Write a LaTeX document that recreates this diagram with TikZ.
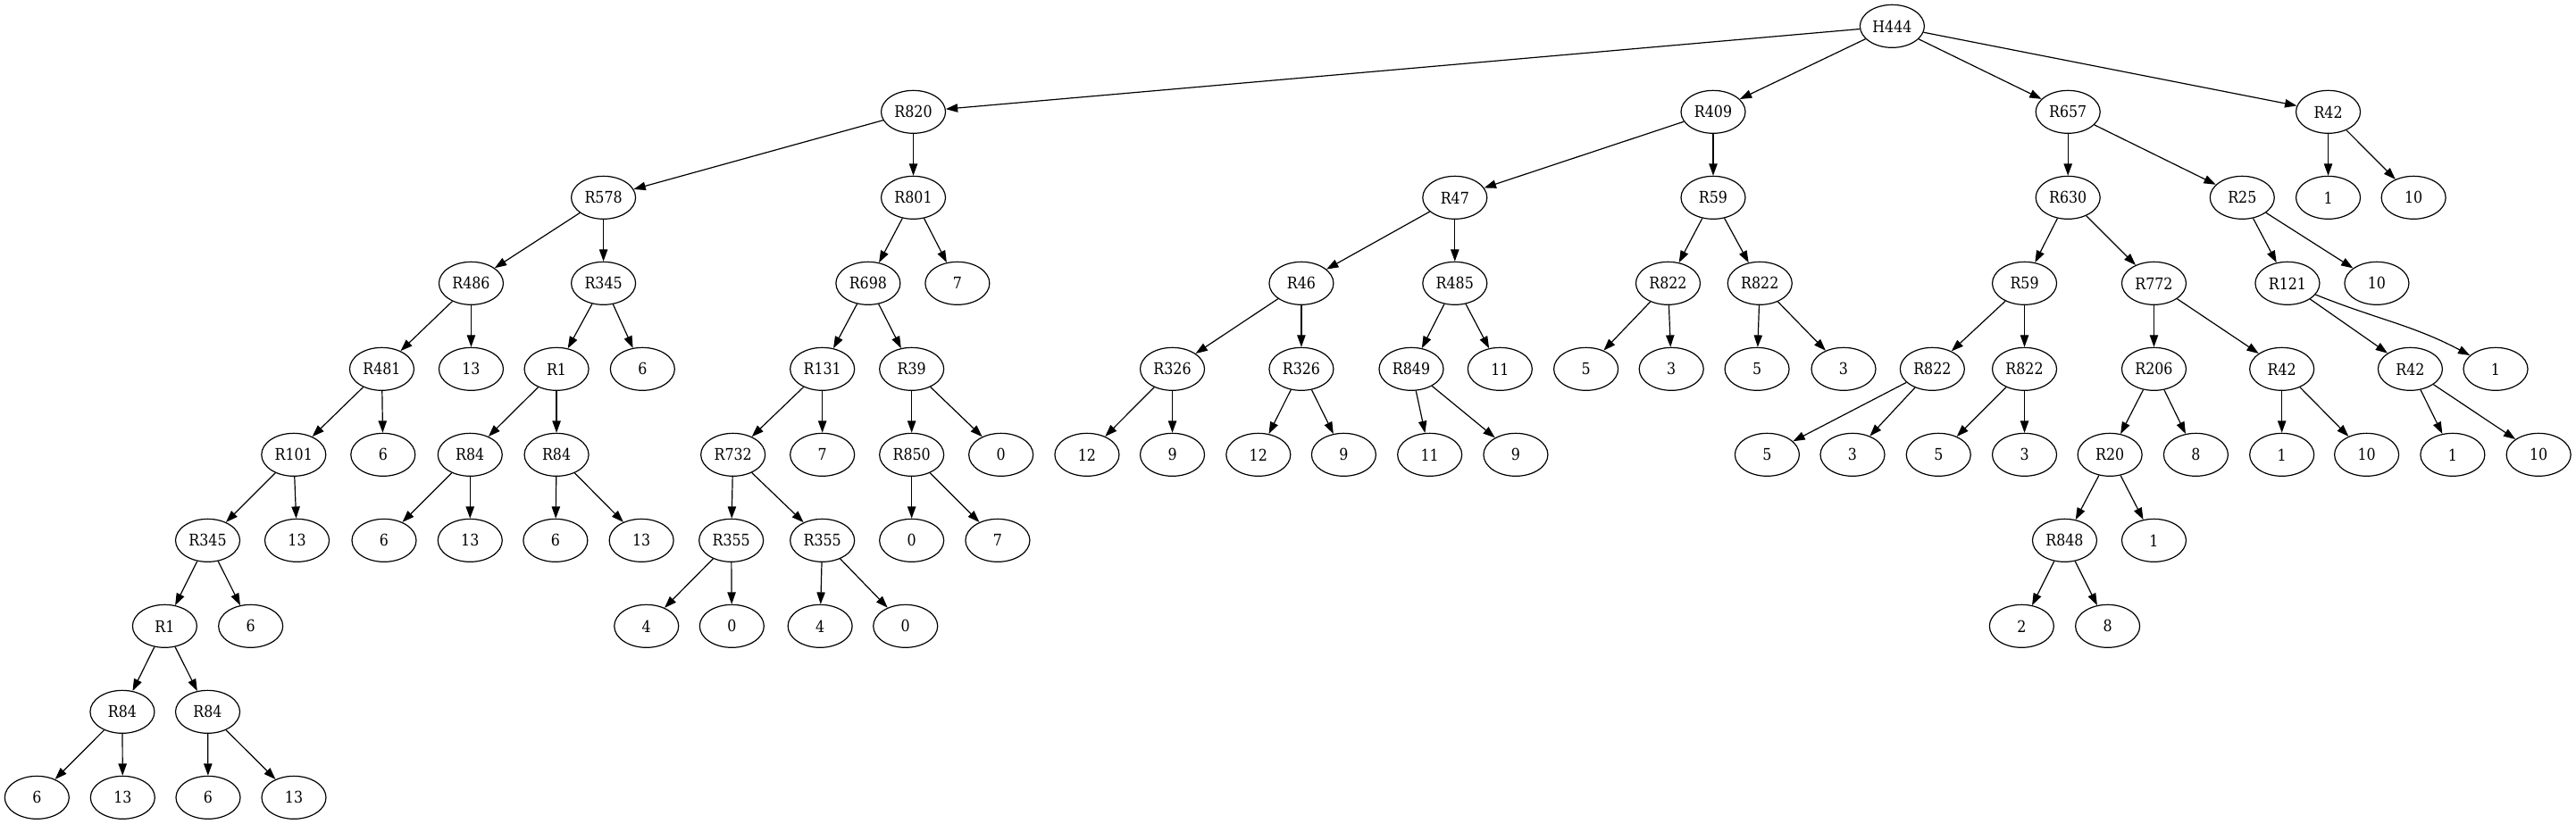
\documentclass[tikz,border=0pt]{standalone}
\usepackage{fontspec}
\setmainfont[FakeStretch=0.88]{DejaVu Serif}
\usetikzlibrary{shapes.geometric,arrows.meta}
\tikzset{
  nd/.style={ellipse,draw,line width=0.9pt,minimum width=54pt,minimum height=36pt,inner sep=0pt,font=\fontsize{13.5}{15}\selectfont},
  arr/.style={line width=0.9pt,-{Triangle[length=10pt,width=7pt]}},
}
\begin{document}
\begin{tikzpicture}[x=1pt,y=1pt]
\useasboundingbox (0,0) rectangle (2163,-692.25);
% row 0
\node[nd] (H444) at (1588.8,-22) {H444};
% row 1
\node[nd] (R820) at (766.9,-94) {R820};
\node[nd] (R409) at (1438.5,-94) {R409};
\node[nd] (R657) at (1736.4,-94) {R657};
\node[nd] (R42a) at (1954.9,-94) {R42};
% row 2
\node[nd] (R578) at (506.7,-166) {R578};
\node[nd] (R801) at (766.9,-166) {R801};
\node[nd] (R47) at (1221.6,-166) {R47};
\node[nd] (R59a) at (1438.5,-166) {R59};
\node[nd] (R630) at (1736.4,-166) {R630};
\node[nd] (R25) at (1882.7,-166) {R25};
\node[nd] (n1a) at (1954.9,-166) {1};
\node[nd] (n10a) at (2026.6,-166) {10};
% row 3
\node[nd] (R486) at (395.6,-238) {R486};
\node[nd] (R345a) at (506.7,-238) {R345};
\node[nd] (R698) at (728.9,-238) {R698};
\node[nd] (n7a) at (803.9,-238) {7};
\node[nd] (R46) at (1092.7,-238) {R46};
\node[nd] (R485) at (1221.6,-238) {R485};
\node[nd] (R822a) at (1400.6,-238) {R822};
\node[nd] (R822b) at (1477.7,-238) {R822};
\node[nd] (R59b) at (1699.9,-238) {R59};
\node[nd] (R772) at (1808.6,-238) {R772};
\node[nd] (R121) at (1920.7,-238) {R121};
\node[nd] (n10b) at (1995.7,-238) {10};
% row 4
\node[nd] (R481) at (320.6,-310) {R481};
\node[nd] (n13a) at (395.6,-310) {13};
\node[nd] (R1a) at (467.3,-310) {R1};
\node[nd] (n6a) at (539.5,-310) {6};
\node[nd] (R131) at (690.5,-310) {R131};
\node[nd] (R39) at (765.5,-310) {R39};
\node[nd] (R326a) at (984.4,-310) {R326};
\node[nd] (R326b) at (1092.7,-310) {R326};
\node[nd] (R849) at (1185,-310) {R849};
\node[nd] (n11a) at (1259.5,-310) {11};
\node[nd] (n5a) at (1331.7,-310) {5};
\node[nd] (n3a) at (1403.4,-310) {3};
\node[nd] (n5b) at (1475.3,-310) {5};
\node[nd] (n3b) at (1548,-310) {3};
\node[nd] (R822c) at (1622.5,-310) {R822};
\node[nd] (R822d) at (1699.9,-310) {R822};
\node[nd] (R206) at (1808.6,-310) {R206};
\node[nd] (R42b) at (1916,-310) {R42};
\node[nd] (R42c) at (2023.8,-310) {R42};
\node[nd] (n1b) at (2095.5,-310) {1};
% row 5
\node[nd] (R101) at (246.6,-382) {R101};
\node[nd] (n6b) at (321.6,-382) {6};
\node[nd] (R84a) at (394.7,-382) {R84};
\node[nd] (R84b) at (467.3,-382) {R84};
\node[nd] (R732) at (615.5,-382) {R732};
\node[nd] (n7b) at (690.5,-382) {7};
\node[nd] (R850) at (765.5,-382) {R850};
\node[nd] (n0a) at (840.5,-382) {0};
\node[nd] (n12a) at (912.7,-382) {12};
\node[nd] (n9a) at (984.4,-382) {9};
\node[nd] (n12b) at (1056.6,-382) {12};
\node[nd] (n9b) at (1128.3,-382) {9};
\node[nd] (n11b) at (1200.5,-382) {11};
\node[nd] (n9c) at (1272.7,-382) {9};
\node[nd] (n5c) at (1483.8,-382) {5};
\node[nd] (n3c) at (1555.5,-382) {3};
\node[nd] (n5d) at (1627.7,-382) {5};
\node[nd] (n3d) at (1699.9,-382) {3};
\node[nd] (R20) at (1771.6,-382) {R20};
\node[nd] (n8a) at (1843.8,-382) {8};
\node[nd] (n1c) at (1916,-382) {1};
\node[nd] (n10c) at (1987.2,-382) {10};
\node[nd] (n1d) at (2059.4,-382) {1};
\node[nd] (n10d) at (2131.6,-382) {10};
% row 6
\node[nd] (R345b) at (174.4,-454) {R345};
\node[nd] (n13b) at (249.4,-454) {13};
\node[nd] (n6c) at (322.5,-454) {6};
\node[nd] (n13c) at (394.7,-454) {13};
\node[nd] (n6d) at (466.4,-454) {6};
\node[nd] (n13d) at (538.6,-454) {13};
\node[nd] (R355a) at (614,-454) {R355};
\node[nd] (R355b) at (690.5,-454) {R355};
\node[nd] (n0b) at (765.5,-454) {0};
\node[nd] (n7c) at (837.7,-454) {7};
\node[nd] (R848) at (1733.6,-454) {R848};
\node[nd] (n1e) at (1808.6,-454) {1};
% row 7
\node[nd] (R1b) at (138.3,-526) {R1};
\node[nd] (n6e) at (210.5,-526) {6};
\node[nd] (n4a) at (542.8,-526) {4};
\node[nd] (n0c) at (614.5,-526) {0};
\node[nd] (n4b) at (688.6,-526) {4};
\node[nd] (n0d) at (760.3,-526) {0};
\node[nd] (n2) at (1697.5,-526) {2};
\node[nd] (n8b) at (1769.7,-526) {8};
% row 8
\node[nd] (R84c) at (102.7,-598) {R84};
\node[nd] (R84d) at (174.4,-598) {R84};
% row 9
\node[nd] (n6f) at (31,-670) {6};
\node[nd] (n13e) at (103,-670) {13};
\node[nd] (n6g) at (174.75,-670) {6};
\node[nd] (n13f) at (246.75,-670) {13};
% edges
\foreach \a/\b in {H444/R820,H444/R409,H444/R657,H444/R42a,
  R820/R578,R820/R801,R578/R486,R578/R345a,R486/R481,R486/n13a,
  R481/R101,R481/n6b,R101/R345b,R101/n13b,R345b/R1b,R345b/n6e,
  R1b/R84c,R1b/R84d,R84c/n6f,R84c/n13e,R84d/n6g,R84d/n13f,
  R345a/R1a,R345a/n6a,R1a/R84a,R1a/R84b,R84a/n6c,R84a/n13c,R84b/n6d,R84b/n13d,
  R801/R698,R801/n7a,R698/R131,R698/R39,R131/R732,R131/n7b,
  R732/R355a,R732/R355b,R355a/n4a,R355a/n0c,R355b/n4b,R355b/n0d,
  R39/R850,R39/n0a,R850/n0b,R850/n7c,
  R409/R47,R409/R59a,R47/R46,R47/R485,R46/R326a,R46/R326b,
  R326a/n12a,R326a/n9a,R326b/n12b,R326b/n9b,R485/R849,R485/n11a,
  R849/n11b,R849/n9c,R59a/R822a,R59a/R822b,R822a/n5a,R822a/n3a,
  R822b/n5b,R822b/n3b,R657/R630,R657/R25,R630/R59b,R630/R772,
  R59b/R822c,R59b/R822d,R822c/n5c,R822c/n3c,R822d/n5d,R822d/n3d,
  R772/R206,R772/R42b,R206/R20,R206/n8a,R20/R848,R20/n1e,R848/n2,R848/n8b,
  R42b/n1c,R42b/n10c,R25/R121,R25/n10b,R121/R42c,R42c/n1d,R42c/n10d,
  R42a/n1a,R42a/n10a}
  \draw[arr] (\a) -- (\b);
\draw[arr] (R121) to[out=-22,in=152] (n1b);
\end{tikzpicture}
\end{document}
